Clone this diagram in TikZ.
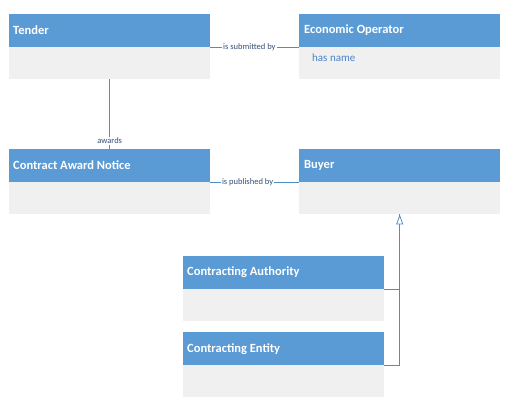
\documentclass[tikz,border=0pt]{standalone}
\usepackage{fontspec}
\setmainfont{Carlito}
\usetikzlibrary{arrows.meta}
\definecolor{hdr}{RGB}{91,155,213}
\definecolor{bdy}{RGB}{240,240,240}
\definecolor{ln}{RGB}{80,140,200}
\definecolor{lbl}{RGB}{55,80,120}
\definecolor{attr}{RGB}{70,130,205}
\begin{document}
\begin{tikzpicture}[x=1pt,y=-1pt,
  hdrbox/.style={draw=none,fill=hdr,text=white,minimum width=201pt,minimum height=33pt,
    anchor=north west,inner sep=0pt},
  bdybox/.style={draw=none,fill=bdy,minimum width=201pt,minimum height=32pt,anchor=north west,inner sep=0pt},
  title/.style={anchor=west,text=white,font=\fontsize{12.5}{14}\selectfont\bfseries,inner sep=0pt},
  conn/.style={draw=ln,line width=0.8pt},
  lab/.style={fill=white,text=lbl,font=\fontsize{8.5}{10}\selectfont,inner sep=1pt}]
\useasboundingbox (0,0) rectangle (511,412);
% Tender
\node[hdrbox] (tender) at (9,14) {};
\node[bdybox] (tenderb) at (9,47) {};
\node[title] (tendert) at (13,30) {Tender};
% Economic Operator
\node[hdrbox] (eo) at (299,14) {};
\node[bdybox] (eob) at (299,47) {};
\node[title] (eot) at (304,30) {Economic Operator};
\node[anchor=west,text=attr,font=\fontsize{11}{13}\selectfont,inner sep=0pt] (eoa) at (312,57.5) {has name};
% Contract Award Notice
\node[hdrbox] (can) at (9,149) {};
\node[bdybox] (canb) at (9,182) {};
\node[title] (cant) at (13,165.5) {Contract Award Notice};
% Buyer
\node[hdrbox] (buyer) at (299,149) {};
\node[bdybox] (buyerb) at (299,182) {};
\node[title] (buyert) at (304,165.5) {Buyer};
% Contracting Authority
\node[hdrbox] (ca) at (183,256) {};
\node[bdybox] (cab) at (183,289) {};
\node[title] (cat) at (187,272.5) {Contracting Authority};
% Contracting Entity
\node[hdrbox] (ce) at (183,332) {};
\node[bdybox] (ceb) at (183,365) {};
\node[title] (cet) at (187,349.5) {Contracting Entity};
% connectors
\draw[conn] (tenderb.south) -- node[lab,pos=0.88] {awards} (can.north);
\draw[conn] (tender.south east) -- node[lab,pos=0.44] {is submitted by} (eo.south west);
\draw[conn] (can.south east) -- node[lab,pos=0.42] {is published by} (buyer.south west);
\draw[conn] (ce.south east) -| (buyerb.south);
\draw[conn,-{Triangle[open,width=7pt,length=10pt,fill=white]}] (ca.south east) -| (buyerb.south);
\end{tikzpicture}
\end{document}
